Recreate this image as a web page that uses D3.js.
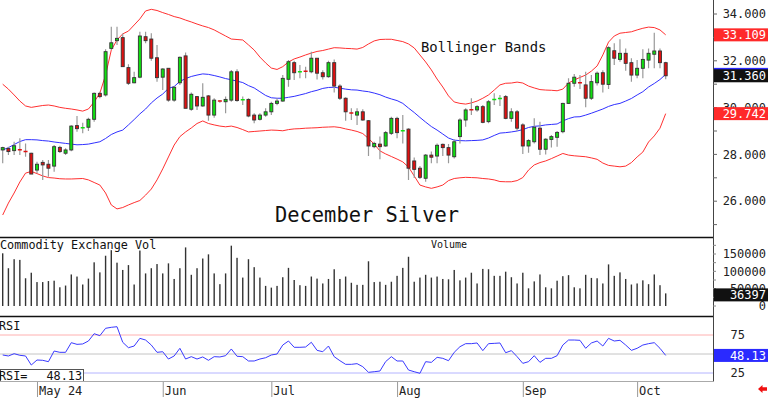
<!DOCTYPE html>
<html>
<head>
<meta charset="utf-8">
<script src="https://cdn.jsdelivr.net/npm/d3@7"></script>
<style>
  body { margin: 0; background: #fff; }
  text { font-family: "DejaVu Sans Mono", monospace; }
</style>
</head>
<body>
<script>
// trading days, 2024
const dates = [
  '04-23','04-24','04-25','04-26','04-29','04-30',
  '05-01','05-02','05-03','05-06','05-07','05-08','05-09','05-10','05-13','05-14','05-15','05-16','05-17','05-20','05-21','05-22','05-23','05-24','05-28','05-29','05-30','05-31',
  '06-03','06-04','06-05','06-06','06-07','06-10','06-11','06-12','06-13','06-14','06-17','06-18','06-20','06-21','06-24','06-25','06-26','06-27','06-28',
  '07-01','07-02','07-03','07-05','07-08','07-09','07-10','07-11','07-12','07-15','07-16','07-17','07-18','07-19','07-22','07-23','07-24','07-25','07-26','07-29','07-30','07-31',
  '08-01','08-02','08-05','08-06','08-07','08-08','08-09','08-12','08-13','08-14','08-15','08-16','08-19','08-20','08-21','08-22','08-23','08-26','08-27','08-28','08-29','08-30',
  '09-03','09-04','09-05','09-06','09-09','09-10','09-11','09-12','09-13','09-16','09-17','09-18','09-19','09-20','09-23','09-24','09-25','09-26','09-27','09-30',
  '10-01','10-02','10-03','10-04','10-07','10-08'
]

const open = [
  28.19,28.25,28.16,28.23,28.13,28.05,27.33,27.66,27.58,27.50,
  28.30,28.05,28.19,29.23,29.10,29.16,29.50,30.61,30.54,32.53,
  32.86,32.99,31.71,31.06,31.30,33.03,32.93,32.13,31.30,31.68,
  30.32,31.06,32.21,29.93,30.47,30.07,30.50,29.68,30.31,30.25,
  30.32,31.53,30.30,30.35,29.68,29.50,29.68,29.82,30.18,30.28,
  31.21,31.92,31.51,31.57,31.53,32.11,31.49,31.32,31.92,30.92,
  30.40,29.78,29.68,29.82,29.44,28.33,28.44,28.36,28.90,29.54,
  28.99,29.08,27.72,27.41,26.98,27.97,27.93,28.43,28.29,27.90,
  28.76,29.47,29.93,29.90,30.04,29.40,30.32,30.38,30.47,29.54,
  29.82,29.26,28.36,28.54,29.12,28.22,28.64,28.73,28.97,30.18,
  31.04,31.09,30.97,30.40,31.06,31.49,30.99,32.43,32.06,32.32,
  31.92,31.39,31.68,32.03,32.28,32.42,31.92
]
const high = [
  28.33,28.33,28.54,28.69,28.47,28.07,27.69,27.76,27.76,28.40,
  28.37,28.26,29.25,29.64,29.35,29.57,30.64,30.68,32.49,33.46,
  33.46,33.17,31.85,31.53,33.24,33.24,33.18,32.68,31.68,31.68,
  30.92,32.18,32.35,30.64,30.50,31.04,30.54,30.40,30.32,30.47,
  31.61,31.64,30.47,30.40,29.76,29.76,29.97,30.25,30.40,31.39,
  32.03,32.00,31.82,31.75,32.39,32.11,31.60,32.00,32.06,31.00,
  30.44,29.97,29.97,29.93,29.47,28.54,28.76,29.00,29.61,29.61,
  29.68,29.12,27.87,27.50,28.02,28.12,28.47,28.47,28.44,28.65,
  29.54,29.97,30.40,30.10,30.11,30.32,30.61,30.54,30.54,29.97,
  29.90,29.33,28.65,29.54,29.40,28.69,28.83,29.00,30.21,31.25,
  31.44,31.39,31.53,31.39,31.54,31.60,32.62,32.75,32.92,32.53,
  32.11,32.03,32.49,32.53,33.20,32.53,31.96
]
const low = [
  27.62,27.97,27.97,27.97,27.90,27.16,27.19,26.91,27.05,27.26,
  28.06,27.97,28.13,28.97,28.90,29.00,29.40,30.40,30.47,32.46,
  32.68,31.75,30.97,31.04,31.25,32.75,32.00,31.11,30.75,30.25,
  30.25,30.97,29.97,29.87,29.90,30.04,29.44,29.57,30.21,29.76,
  30.25,30.25,30.11,29.59,29.33,29.45,29.61,29.68,30.10,30.25,
  30.89,31.18,31.25,31.25,31.47,31.20,31.20,31.28,30.64,30.33,
  29.44,29.47,29.26,29.44,27.93,28.26,27.79,28.33,28.83,28.69,
  28.47,26.91,26.99,26.95,26.83,27.62,27.62,27.93,27.62,27.83,
  28.47,29.18,29.68,29.82,29.33,29.33,30.11,30.07,29.50,29.40,
  29.00,28.02,28.07,28.47,27.97,28.00,28.29,28.33,28.90,30.15,
  30.89,30.79,30.01,30.32,30.94,30.64,30.79,31.82,31.96,31.58,
  31.11,31.25,31.25,31.68,31.68,31.68,31.21
]
const close = [
  28.29,28.12,28.37,28.16,28.12,27.16,27.58,27.55,27.41,28.33,
  28.12,28.19,29.21,29.10,29.17,29.50,30.61,30.47,32.39,32.77,
  32.96,31.75,31.04,31.28,33.06,32.86,32.11,31.28,31.65,30.32,
  30.87,32.15,29.97,30.57,30.07,30.44,29.68,30.32,30.25,30.35,
  31.53,30.30,30.38,29.64,29.47,29.68,29.82,30.18,30.28,31.25,
  31.96,31.49,31.55,31.53,32.11,31.47,31.32,31.92,30.92,30.40,
  29.82,29.75,29.82,29.47,28.36,28.47,28.33,28.93,29.54,28.93,
  29.03,27.41,27.36,27.02,27.97,27.88,28.39,28.29,27.97,28.54,
  29.47,29.90,29.88,30.04,29.37,30.25,30.38,30.40,29.54,29.82,
  29.12,28.36,28.59,29.16,28.22,28.65,28.76,28.94,30.18,31.04,
  31.30,31.04,30.40,31.11,31.47,31.00,32.56,32.11,32.32,31.89,
  31.39,31.68,32.06,32.32,32.42,31.92,31.36
]

const bbUpper = [
  31.00,30.79,30.54,30.28,30.07,30.01,30.05,30.09,30.11,30.07,
  30.01,29.97,29.94,29.90,29.85,29.94,30.24,30.62,31.39,32.46,
  32.89,33.15,33.27,33.53,33.79,34.13,34.20,34.15,34.06,33.98,
  33.89,33.83,33.74,33.66,33.57,33.49,33.42,33.32,33.19,33.06,
  32.93,32.91,32.89,32.68,32.46,32.16,31.91,31.69,31.63,31.75,
  31.95,32.08,32.16,32.25,32.33,32.40,32.44,32.50,32.56,32.55,
  32.53,32.52,32.50,32.57,32.72,32.85,32.91,32.92,32.92,32.87,
  32.82,32.72,32.55,32.25,31.95,31.61,31.22,30.88,30.50,30.24,
  30.18,30.15,30.20,30.28,30.40,30.54,30.75,30.97,31.04,31.05,
  31.09,31.05,30.92,30.84,30.77,30.75,30.74,30.72,30.79,31.05,
  31.18,31.29,31.39,31.56,31.78,32.25,32.80,33.06,33.18,33.21,
  33.24,33.32,33.39,33.44,33.42,33.32,33.109
]
const bbMiddle = [
  28.19,28.29,28.42,28.55,28.63,28.63,28.62,28.59,28.57,28.53,
  28.50,28.47,28.44,28.41,28.42,28.44,28.49,28.54,28.68,28.85,
  28.96,29.04,29.26,29.49,29.73,29.94,30.20,30.41,30.58,30.82,
  30.90,31.12,31.24,31.33,31.39,31.44,31.42,31.37,31.31,31.24,
  31.19,31.13,31.07,30.94,30.84,30.68,30.52,30.42,30.40,30.40,
  30.44,30.48,30.54,30.60,30.68,30.74,30.82,30.86,30.87,30.83,
  30.79,30.76,30.75,30.71,30.68,30.62,30.55,30.45,30.37,30.30,
  30.18,29.98,29.79,29.58,29.38,29.19,29.04,28.87,28.70,28.61,
  28.59,28.58,28.59,28.60,28.62,28.70,28.81,28.91,28.93,28.96,
  29.00,29.06,29.15,29.20,29.22,29.26,29.28,29.30,29.43,29.53,
  29.60,29.61,29.68,29.76,29.85,29.94,30.05,30.13,30.18,30.28,
  30.39,30.54,30.68,30.88,31.03,31.20,31.42
]
const bbLower = [
  25.41,25.92,26.35,26.82,27.20,27.27,27.18,27.08,27.01,26.99,
  26.96,26.95,26.95,26.96,26.97,26.91,26.80,26.69,26.35,25.84,
  25.67,25.73,25.84,25.94,26.03,26.26,26.52,26.91,27.38,27.89,
  28.40,28.76,28.96,29.13,29.32,29.43,29.32,29.26,29.21,29.18,
  29.21,29.15,29.06,28.96,28.98,29.00,29.02,29.04,29.03,29.01,
  29.06,29.09,29.10,29.12,29.13,29.14,29.16,29.17,29.18,29.15,
  29.09,29.04,28.98,28.89,28.68,28.44,28.15,28.02,27.91,27.80,
  27.68,27.46,27.08,26.69,26.61,26.55,26.61,26.69,26.88,26.97,
  27.00,27.02,27.01,27.00,26.97,26.95,26.91,26.84,26.83,26.83,
  26.88,27.01,27.33,27.55,27.65,27.72,27.82,27.93,28.04,27.97,
  27.94,27.92,27.90,27.85,27.79,27.63,27.53,27.50,27.47,27.50,
  27.65,27.89,28.10,28.53,28.79,29.12,29.742
]

const volume = [
  152000,109000,135000,133000,80000,96000,69000,69000,72000,73000,
  54000,59000,91000,85000,62000,79000,126000,97000,145000,161000,
  125000,104000,118000,62000,160000,94000,109000,121000,94000,123000,
  78000,109000,169000,90000,109000,137000,149000,94000,63000,94000,
  174000,139000,82000,135000,112000,82000,58000,53000,58000,83000,
  110000,75000,60000,58000,85000,79000,65000,78000,106000,78000,
  85000,67000,61000,61000,129000,69000,70000,61000,70000,87000,
  110000,142000,70000,82000,90000,82000,85000,78000,77000,104000,
  74000,82000,96000,65000,107000,106000,87000,87000,99000,83000,
  65000,96000,51000,71000,91000,54000,51000,73000,86000,89000,
  54000,51000,90000,81000,80000,65000,120000,87000,97000,78000,
  62000,65000,74000,63000,91000,60000,36397
]

const rsi = [
  48.7,47.4,50.4,48.3,47.4,35.5,42.1,41.7,39.9,53.9,
  52.2,52.2,64.9,62.7,63.2,67.1,76.7,74.1,83.8,85.1,
  85.9,65.4,58.3,60.5,70.6,68.4,61.8,52.2,53.0,43.4,
  47.4,57.5,43.4,46.5,43.4,46.1,41.7,46.5,46.1,47.8,
  56.6,47.0,46.5,40.8,40.8,43.4,45.1,48.7,50.0,61.8,
  67.1,58.8,58.8,59.2,65.4,54.8,53.0,60.5,46.5,41.2,
  36.4,36.4,37.3,33.3,25.9,26.7,27.6,40.0,46.5,40.8,
  40.8,28.9,26.7,24.6,39.9,39.0,45.6,44.3,41.2,52.2,
  59.6,63.6,63.6,64.5,54.4,63.6,64.0,64.5,51.7,54.4,
  46.5,37.7,39.9,47.8,39.0,44.3,44.3,47.8,61.8,68.4,
  68.4,68.0,57.5,64.5,67.1,60.5,70.6,67.1,68.0,61.8,
  54.8,57.5,61.8,63.6,64.9,57.5,48.13
]

const priceTicks = [26, 28, 30, 32, 34]
const volumeTicks = [0, 50000, 100000, 150000]
const rsiTicks = [25, 75]
const monthTickDates = ['05-01', '06-03', '07-01', '08-01', '09-03', '10-01']
const monthTickLabels = ['May 24', 'Jun', 'Jul', 'Aug', 'Sep', 'Oct']

const frame = {
  width: 768,
  height: 398,
  plotRight: 713,
  mainBottom: 237.5,
  volBottom: 316.5,
  rsiBottom: 381.5
}

const svg = d3.select('body').append('svg')
  .attr('width', frame.width)
  .attr('height', frame.height)

const x = d3.scalePoint().domain(dates).range([2.7, 665.7])
const yPrice = d3.scaleLinear().domain([26, 34]).range([201.2, 14])
const yVol = d3.scaleLinear().domain([0, 150000]).range([306, 254])
const yRsi = d3.scaleLinear().domain([25, 75]).range([373, 335])

svg.append('clipPath').attr('id', 'clip-main')
  .append('rect').attr('x', 0).attr('y', 0).attr('width', frame.plotRight).attr('height', frame.mainBottom)

// ---- main panel ----
const main = svg.append('g').attr('clip-path', 'url(#clip-main)')

main.append('text').text('Bollinger Bands')
  .attr('x', 421).attr('y', 51.5).attr('font-size', 13.9).attr('fill', '#111')
main.append('text').text('December Silver')
  .attr('x', 275).attr('y', 221.5).attr('font-size', 20.4).attr('fill', '#111')

const bandLine = d3.line().x((d, i) => x(dates[i])).y(d => yPrice(d))
main.append('path').attr('d', bandLine(bbUpper)).attr('fill', 'none').attr('stroke', '#ff3030').attr('stroke-width', 1)
main.append('path').attr('d', bandLine(bbLower)).attr('fill', 'none').attr('stroke', '#ff3030').attr('stroke-width', 1)
main.append('path').attr('d', bandLine(bbMiddle)).attr('fill', 'none').attr('stroke', '#3030ff').attr('stroke-width', 1)

const candles = dates.map((d, i) => ({ d, o: open[i], h: high[i], l: low[i], c: close[i] }))

candles.forEach(k => {
  const cx = x(k.d)
  const col = k.c > k.o ? '#10e010' : (k.c < k.o ? '#e01010' : '#111')
  main.append('line')
    .attr('x1', cx).attr('x2', cx)
    .attr('y1', yPrice(k.h)).attr('y2', yPrice(k.l))
    .attr('stroke', '#999').attr('stroke-width', 1.2)
  const top = yPrice(Math.max(k.o, k.c))
  const bot = yPrice(Math.min(k.o, k.c))
  if (bot - top < 2) {
    main.append('line')
      .attr('x1', cx - 2).attr('x2', cx + 2)
      .attr('y1', (top + bot) / 2).attr('y2', (top + bot) / 2)
      .attr('stroke', col).attr('stroke-width', 1.5)
  } else {
    main.append('rect')
      .attr('x', cx - 1.5).attr('width', 3)
      .attr('y', top).attr('height', bot - top)
      .attr('fill', col).attr('stroke', '#333').attr('stroke-width', 0.9)
  }
})

// ---- volume panel ----
svg.append('text').text('Commodity Exchange Vol')
  .attr('x', 0).attr('y', 249).attr('font-size', 11.8).attr('fill', '#111')
svg.append('text').text('Volume')
  .attr('x', 431).attr('y', 248).attr('font-size', 10).attr('fill', '#111')

svg.append('g').selectAll('rect').data(volume).join('rect')
  .attr('x', (d, i) => x(dates[i]) - 0.7)
  .attr('width', 1.4)
  .attr('y', d => yVol(d))
  .attr('height', d => yVol(0) - yVol(d))
  .attr('fill', '#333')

// ---- RSI panel ----
const rsiRefs = [[75, '#ffb0b0'], [50, '#c4c4c4'], [25, '#b4b4ff']]
rsiRefs.forEach(([v, c]) => {
  svg.append('line').attr('x1', 0).attr('x2', frame.plotRight)
    .attr('y1', yRsi(v)).attr('y2', yRsi(v)).attr('stroke', c).attr('stroke-width', 1)
})
svg.append('path')
  .attr('d', d3.line().x((d, i) => x(dates[i])).y(d => yRsi(d))(rsi))
  .attr('fill', 'none').attr('stroke', '#3a3aff').attr('stroke-width', 1)

svg.append('text').text('RSI').attr('x', -1).attr('y', 329.5).attr('font-size', 11.8).attr('fill', '#111')

svg.append('rect').attr('x', 0.5).attr('y', 369.5).attr('width', 83).attr('height', 12)
  .attr('fill', '#fff').attr('stroke', '#555').attr('stroke-width', 1)
svg.append('text').text('RSI=').attr('x', -1).attr('y', 379.5).attr('font-size', 11.8).attr('fill', '#111')
svg.append('text').text(rsi[rsi.length - 1].toFixed(2)).attr('x', 82).attr('y', 379.5)
  .attr('text-anchor', 'end').attr('font-size', 11.8).attr('fill', '#111')

// ---- frame lines ----
svg.append('line').attr('x1', 0).attr('x2', frame.plotRight + 1).attr('y1', frame.mainBottom).attr('y2', frame.mainBottom)
  .attr('stroke', '#111').attr('stroke-width', 1.5)
svg.append('line').attr('x1', 0).attr('x2', frame.plotRight + 1).attr('y1', frame.volBottom).attr('y2', frame.volBottom)
  .attr('stroke', '#111').attr('stroke-width', 1.5)
svg.append('line').attr('x1', 0).attr('x2', frame.plotRight).attr('y1', frame.rsiBottom).attr('y2', frame.rsiBottom)
  .attr('stroke', '#aaa').attr('stroke-width', 1)
svg.append('line').attr('x1', frame.plotRight + 0.5).attr('x2', frame.plotRight + 0.5).attr('y1', 0).attr('y2', frame.rsiBottom)
  .attr('stroke', '#444').attr('stroke-width', 1)

// right-side axis tick marks
d3.range(25, 36).forEach(v => {
  const yy = yPrice(v)
  if (yy < 2 || yy > frame.mainBottom - 2) return
  svg.append('line').attr('x1', frame.plotRight).attr('x2', frame.plotRight + 4)
    .attr('y1', yy).attr('y2', yy).attr('stroke', '#666')
})
d3.range(0, 200000, 25000).forEach(v => {
  const yy = yVol(v)
  if (yy < frame.mainBottom + 2) return
  svg.append('line').attr('x1', frame.plotRight).attr('x2', frame.plotRight + 3)
    .attr('y1', yy).attr('y2', yy).attr('stroke', '#888')
})

// right-side labels
const labelX = 766
priceTicks.forEach(v => {
  svg.append('text').text(v.toFixed(3)).attr('x', labelX).attr('y', yPrice(v)).attr('dy', '0.35em')
    .attr('text-anchor', 'end').attr('font-size', 12).attr('fill', '#222')
})
volumeTicks.forEach(v => {
  svg.append('text').text(v).attr('x', labelX).attr('y', yVol(v)).attr('dy', '0.35em')
    .attr('text-anchor', 'end').attr('font-size', 12).attr('fill', '#222')
})
rsiTicks.forEach(v => {
  svg.append('text').text(v).attr('x', 745).attr('y', yRsi(v)).attr('dy', '0.35em')
    .attr('text-anchor', 'end').attr('font-size', 12).attr('fill', '#222')
})

function valueBox(yy, label, fill) {
  svg.append('rect').attr('x', frame.plotRight + 1).attr('y', yy - 6.5)
    .attr('width', frame.width - frame.plotRight - 1).attr('height', 13).attr('fill', fill)
  svg.append('text').text(label).attr('x', labelX).attr('y', yy).attr('dy', '0.36em')
    .attr('text-anchor', 'end').attr('font-size', 12).attr('fill', '#fff')
}
const last = dates.length - 1
valueBox(yPrice(bbUpper[last]), bbUpper[last].toFixed(3), '#ff2a2a')
valueBox(yPrice(bbLower[last]), bbLower[last].toFixed(3), '#ff2a2a')
valueBox(yPrice(bbMiddle[last]), bbMiddle[last].toFixed(3), '#2a2aff')
valueBox(yPrice(close[last]), close[last].toFixed(3), '#111')
valueBox(yVol(volume[last]) + 1.5, String(volume[last]), '#111')
valueBox(yRsi(rsi[last]), rsi[last].toFixed(2), '#2a2aff')

// ---- date axis ----
monthTickDates.forEach((d, i) => {
  const cx = x(d)
  svg.append('line').attr('x1', cx + 0.5).attr('x2', cx + 0.5).attr('y1', 382).attr('y2', 397)
    .attr('stroke', '#999').attr('stroke-width', 1)
  svg.append('text').text(monthTickLabels[i]).attr('x', cx + 2).attr('y', 394.5)
    .attr('font-size', 12).attr('fill', '#222')
})

// little red arrow, bottom right
svg.append('path')
  .attr('d', 'M758,389 L762.5,385 L762.5,387.3 L767,387.3 L767,390.7 L762.5,390.7 L762.5,393 Z')
  .attr('fill', '#f01010')
</script>
</body>
</html>
